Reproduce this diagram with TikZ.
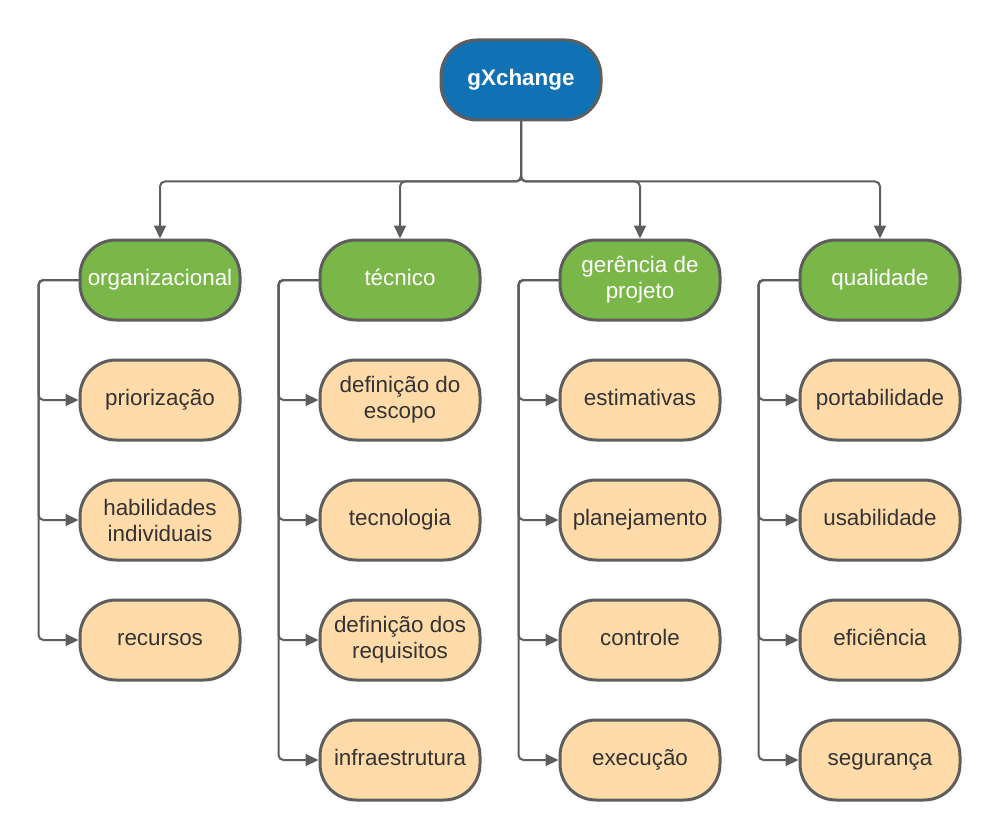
\documentclass[tikz,border=0pt]{standalone}
\usepackage{fontspec}
\setmainfont{Liberation Sans}
\usepackage{xcolor}
\usepackage{tikz}
\usetikzlibrary{arrows.meta, positioning}
\definecolor{rootblue}{RGB}{16, 114, 181}
\definecolor{catgreen}{RGB}{122, 182, 72}
\definecolor{leaforange}{RGB}{255, 219, 169}
\definecolor{edgegray}{RGB}{94, 94, 94}
\definecolor{textgray}{RGB}{51, 51, 51}

\tikzset{
    pill/.style={draw=edgegray, line width=1.5pt, rectangle, rounded corners=18pt,
        minimum width=80pt, minimum height=40pt, align=center,
        text height=8pt, text depth=2.2pt,
        font=\fontsize{11.2}{13}\selectfont},
    twolines/.style={text height={}, text depth={}},
    rootbox/.style={pill, fill=rootblue, text=white, font=\fontsize{11.2}{13}\selectfont\bfseries},
    catbox/.style={pill, fill=catgreen, text=white},
    leafbox/.style={pill, fill=leaforange, text=textgray},
    conn/.style={draw=edgegray, line width=1pt, rounded corners=2.5pt,
        -{Triangle[length=6.5pt, width=6pt]}}
}

\begin{document}
\begin{tikzpicture}[x=0.5pt, y=-0.5pt]
        \useasboundingbox (0,0) rectangle (1002,840);
        % Root
        \node[rootbox] (gx) at (521,80) {gXchange};

        % Categories
        \node[catbox] (org) at (160,280) {organizacional};
        \node[catbox] (tec) at (400,280) {técnico};
        \node[catbox, twolines] (ger) at (640,280) {gerência de\\projeto};
        \node[catbox] (qual) at (880,280) {qualidade};

        \draw[conn] (gx.south) -- ++(0,60) -| (org);
        \draw[conn] (gx.south) -- ++(0,60) -| (tec);
        \draw[conn] (gx.south) -- ++(0,60) -| (ger);
        \draw[conn] (gx.south) -- ++(0,60) -| (qual);

        % organizacional
        \node[leafbox] (prio) at (160,400) {priorização};
        \node[leafbox, twolines] (hab) at (160,520) {habilidades\\individuais};
        \node[leafbox] (rec) at (160,640) {recursos};
        \draw[conn] (org.west) -- ++(-40,0) |- (prio);
        \draw[conn] (org.west) -- ++(-40,0) |- (hab);
        \draw[conn] (org.west) -- ++(-40,0) |- (rec);

        % técnico
        \node[leafbox, twolines] (esc) at (400,400) {definição do\\escopo};
        \node[leafbox] (tecno) at (400,520) {tecnologia};
        \node[leafbox, twolines] (req) at (400,640) {definição dos\\requisitos};
        \node[leafbox] (infra) at (400,760) {infraestrutura};
        \draw[conn] (tec.west) -- ++(-40,0) |- (esc);
        \draw[conn] (tec.west) -- ++(-40,0) |- (tecno);
        \draw[conn] (tec.west) -- ++(-40,0) |- (req);
        \draw[conn] (tec.west) -- ++(-40,0) |- (infra);

        % gerência de projeto
        \node[leafbox] (est) at (640,400) {estimativas};
        \node[leafbox] (plan) at (640,520) {planejamento};
        \node[leafbox] (ctrl) at (640,640) {controle};
        \node[leafbox] (exec) at (640,760) {execução};
        \draw[conn] (ger.west) -- ++(-40,0) |- (est);
        \draw[conn] (ger.west) -- ++(-40,0) |- (plan);
        \draw[conn] (ger.west) -- ++(-40,0) |- (ctrl);
        \draw[conn] (ger.west) -- ++(-40,0) |- (exec);

        % qualidade
        \node[leafbox] (port) at (880,400) {portabilidade};
        \node[leafbox] (usab) at (880,520) {usabilidade};
        \node[leafbox] (efic) at (880,640) {eficiência};
        \node[leafbox] (seg) at (880,760) {segurança};
        \draw[conn] (qual.west) -- ++(-40,0) |- (port);
        \draw[conn] (qual.west) -- ++(-40,0) |- (usab);
        \draw[conn] (qual.west) -- ++(-40,0) |- (efic);
        \draw[conn] (qual.west) -- ++(-40,0) |- (seg);
    \end{tikzpicture}
\end{document}
